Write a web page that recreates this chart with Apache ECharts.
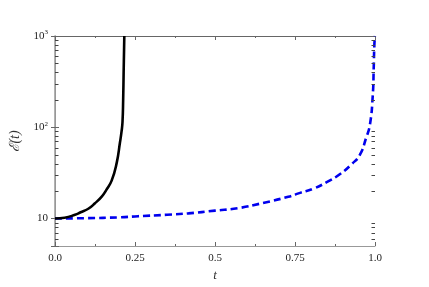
<!DOCTYPE html>
<html>
<head>
<meta charset="utf-8">
<script src="https://cdn.jsdelivr.net/npm/echarts@6/dist/echarts.min.js"></script>
<style>
html,body{margin:0;padding:0;background:#fff;}
#c{width:429px;height:287px;}
</style>
</head>
<body>
<div id="c"></div>
<script>
// Black solid curve
const blackT = [0, 0.03, 0.0625, 0.08, 0.104, 0.125, 0.146, 0.16, 0.177, 0.193, 0.203, 0.208, 0.211, 0.213, 0.2145, 0.2158, 0.2166];
const blackE = [10, 10.2, 11.0, 11.7, 12.8, 14.7, 17.4, 20.5, 26, 41, 68, 90, 115, 200, 400, 700, 1000];
// Blue dashed curve
const blueT = [0, 0.1, 0.2, 0.26, 0.35, 0.417, 0.5, 0.573, 0.65, 0.729, 0.766, 0.807, 0.849, 0.891, 0.927, 0.953, 0.972, 0.984, 0.993, 0.996, 0.998, 1.0];
const blueE = [10, 10.1, 10.3, 10.6, 11.0, 11.4, 12.2, 13.0, 14.8, 17.3, 19.1, 21.2, 25, 30.7, 39.4, 50, 76, 106, 223, 450, 800, 1000];
// Axis ticks
const xTicks = [0, 0.25, 0.5, 0.75, 1.0];
const xTickLabels = ['0.0', '0.25', '0.5', '0.75', '1.0'];
const yTickVals = [10, 100, 1000];
const yTickLabels = ['10', '10{s|2}', '10{s|3}'];

const minorVals = [];
for (const dec of [1, 10, 100]) {
  for (let k = 2; k <= 9; k++) {
    const v = k * dec;
    if (v > 5 && v < 1000) minorVals.push(v);
  }
}
const minorTickData = [];
minorVals.forEach(v => { minorTickData.push([0.001, v]); minorTickData.push([0.999, v]); });

const axisColor = '#999';
const font = 'Liberation Serif';

const chart = echarts.init(document.getElementById('c'), null, {renderer: 'canvas'});
chart.setOption({
  animation: false,
  backgroundColor: '#fff',
  grid: {left: 55, right: 54, top: 36, bottom: 38},
  xAxis: [{
    type: 'value', min: 0, max: 1, interval: 0.25,
    name: 't', nameLocation: 'middle', nameGap: 23,
    nameTextStyle: {fontFamily: font, fontStyle: 'italic', fontSize: 13, color: '#333'},
    axisLine: {show: true, lineStyle: {color: axisColor, width: 1}},
    axisTick: {show: true, inside: true, length: 4, lineStyle: {color: '#666'}},
    minorTick: {show: true, splitNumber: 2, length: 2, lineStyle: {color: '#666'}},
    splitLine: {show: false},
    axisLabel: {
      fontFamily: font, fontSize: 11, color: '#222', margin: 7,
      formatter: v => { const i = xTicks.findIndex(t => Math.abs(t - v) < 1e-9); return i >= 0 ? xTickLabels[i] : ''; }
    }
  }, {
    type: 'value', min: 0, max: 1, interval: 0.25, position: 'top',
    axisLine: {show: true, lineStyle: {color: '#666', width: 1}},
    axisTick: {show: true, inside: true, length: 4, lineStyle: {color: '#666'}},
    minorTick: {show: true, splitNumber: 2, length: 2, lineStyle: {color: '#666'}},
    splitLine: {show: false},
    axisLabel: {show: false}
  }],
  yAxis: [{
    type: 'log', logBase: 10, min: 5, max: 1000,
    name: 'ℰ(t)', nameLocation: 'middle', nameGap: 27, nameRotate: 90,
    nameTextStyle: {fontFamily: font, fontStyle: 'italic', fontSize: 14, color: '#333'},
    axisLine: {show: true, lineStyle: {color: axisColor, width: 1}},
    axisTick: {show: true, inside: true, length: 4, lineStyle: {color: '#666'}},
    splitLine: {show: false},
    axisLabel: {
      fontFamily: font, fontSize: 11, color: '#222', margin: 7,
      formatter: v => { const i = yTickVals.findIndex(t => Math.abs(t - v) < 1e-6); return i >= 0 ? yTickLabels[i] : ''; },
      rich: {s: {fontFamily: font, fontSize: 7, verticalAlign: 'top', padding: [0, 0, 7, 0], color: '#222'}}
    }
  }, {
    type: 'log', logBase: 10, min: 5, max: 1000, position: 'right',
    axisLine: {show: true, lineStyle: {color: axisColor, width: 1.5}},
    axisTick: {show: true, inside: true, length: 4, lineStyle: {color: '#666'}},
    splitLine: {show: false},
    axisLabel: {show: false}
  }],
  series: [{
    type: 'custom',
    silent: true, z: 10, clip: false,
    data: minorTickData,
    renderItem: (params, api) => {
      const side = api.value(0);
      const p = api.coord([side < 0.5 ? 0 : 1, api.value(1)]);
      const y = Math.round(p[1]) + 0.5;
      const dx = side < 0.5 ? 3.5 : -3.5;
      return {type: 'line', shape: {x1: p[0], y1: y, x2: p[0] + dx, y2: y}, style: {stroke: '#444', lineWidth: 1}};
    }
  }, {
    type: 'line', name: 'black',
    data: blackT.map((t, i) => [t, blackE[i]]),
    showSymbol: false, smooth: 0.5,
    lineStyle: {color: '#000', width: 2.6},
    z: 3
  }, {
    type: 'line', name: 'blue',
    data: blueT.map((t, i) => [t, blueE[i]]),
    showSymbol: false, smooth: 0.5,
    lineStyle: {color: '#0000ee', width: 2.6, type: [7, 4]},
    z: 2
  }]
});
</script>
</body>
</html>
